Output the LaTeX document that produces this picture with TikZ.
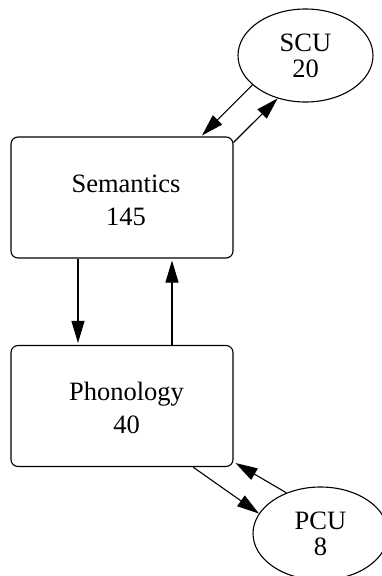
\documentclass[tikz,border=0pt]{standalone}
\usepackage{fontspec}
\setmainfont{Liberation Serif}
\usetikzlibrary{arrows.meta,shapes.geometric}
\begin{document}
\begin{tikzpicture}[x=1pt,y=-1pt,
  boxnode/.style={draw,rounded corners=7pt,minimum width=222pt,minimum height=121pt,line width=1.1pt},
  boxtext/.style={inner sep=0pt,align=center,font=\fontsize{26.5}{33}\selectfont},
  unitnode/.style={draw,ellipse,minimum width=135pt,minimum height=93pt,inner sep=0pt,align=center,font=\fontsize{26.5}{26}\selectfont,line width=1.1pt},
  link/.style={line width=1.1pt,-{Triangle[length=22pt,width=13pt]}}]
\useasboundingbox (0,0) rectangle (382,576);
\node[boxnode] (sem) at (122,197.5) {};
\node[boxtext] (semtext) at (126,200) {Semantics\\145};
\node[boxnode] (phon) at (122,406) {};
\node[boxtext] (phontext) at (126.5,408) {Phonology\\40};
\node[unitnode] (scu) at (305.5,55.5) {SCU\\20};
\node[unitnode] (pcu) at (320.5,533.5) {PCU\\8};
\draw[link] ([xshift=-44pt]sem.south) -- ([xshift=-44pt,yshift=2pt]phon.north);
\draw[link] ([xshift=50pt]phon.north) -- ([xshift=50pt,yshift=-2pt]sem.south);
\draw[link] ([yshift=-6pt]sem.north east) -- (scu.237);
\draw[link] (scu.209) -- ([xshift=80pt,yshift=1pt]sem.north);
\draw[link] ([xshift=71pt]phon.south) -- (pcu.162);
\draw[link] (pcu.130) -- ([xshift=2pt,yshift=4pt]phon.south east);
\end{tikzpicture}
\end{document}
